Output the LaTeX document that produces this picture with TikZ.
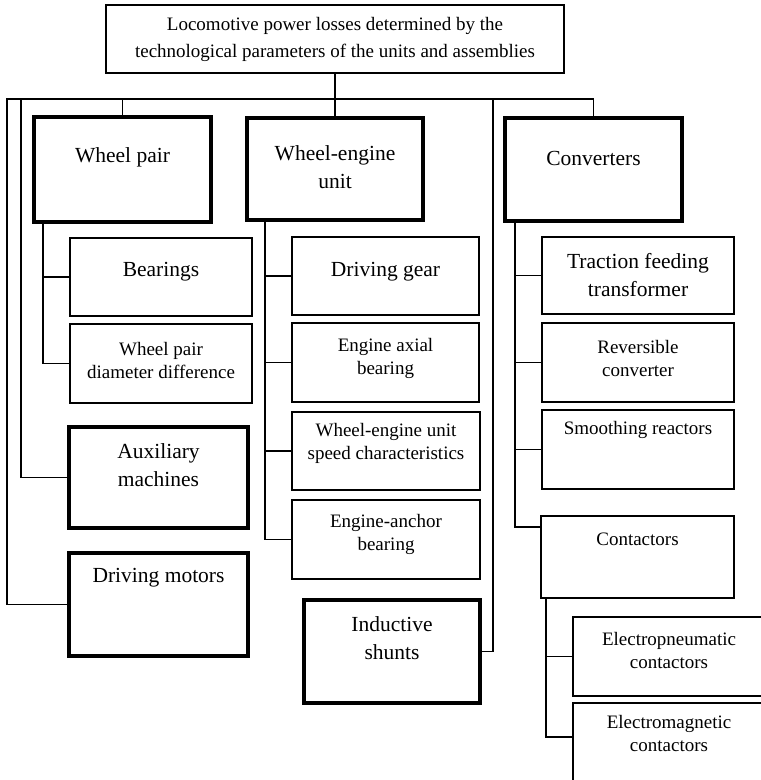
\documentclass[tikz,border=0pt]{standalone}
\usepackage{fontspec}
\setmainfont{Liberation Serif}
\usepackage{tikz}
\usetikzlibrary{positioning,calc}
\tikzset{
mainbox/.style={
draw,
line width=3.6bp,
anchor=north west,
inner sep=0pt,
outer sep=0pt
},
subbox/.style={
draw,
line width=1.8bp,
anchor=north west,
inner sep=0pt,
outer sep=0pt
},
boxsize/.style 2 args={
minimum width=#1bp,
minimum height=#2bp
},
bigtext/.style={
font=\fontsize{21.5bp}{28bp}\selectfont,
align=center
},
smalltext/.style={
font=\fontsize{19bp}{23bp}\selectfont,
align=center
},
link/.style={
line width=1.8bp
}
}

\begin{document}
\begin{tikzpicture}[x=1bp,y=-1bp]
\useasboundingbox (0,0) rectangle (761,780);
\fill[white] (0,0) rectangle (761,780);
\clip (0,0) rectangle (761,780);

% root
\node[subbox,boxsize={458}{68},label={[smalltext,font=\fontsize{19bp}{27bp}\selectfont]center:{Locomotive power losses determined by the\\technological parameters of the units and assemblies}}](top) at (106,5){};

% main groups
\node[mainbox,boxsize={177}{105},label={[bigtext,yshift=12.5bp]center:Wheel pair}](wp) at (34,117){};
\node[mainbox,boxsize={176}{102},label={[bigtext,yshift=2bp]center:{Wheel-engine\\unit}}](weu) at (247,118){};
\node[mainbox,boxsize={177}{103},label={[bigtext,yshift=11.5bp]center:Converters}](conv) at (505,118){};
\node[mainbox,boxsize={179}{101},label={[bigtext,yshift=12.5bp]center:{Auxiliary\\machines}}](aux) at (69,427){};
\node[mainbox,boxsize={179}{103},label={[bigtext,yshift=26.5bp]center:Driving motors}](dm) at (69,553){};
\node[mainbox,boxsize={176}{103},label={[bigtext,yshift=13.5bp]center:{Inductive\\shunts}}](ish) at (304,600){};

% wheel pair items
\node[subbox,boxsize={182}{78},label={[bigtext,yshift=5bp]center:Bearings}](bear) at (70,238){};
\node[subbox,boxsize={182}{79},label={[smalltext,yshift=3.5bp]center:{Wheel pair\\diameter difference}}](wpdd) at (70,324){};

% wheel-engine unit items
\node[subbox,boxsize={187}{78},label={[bigtext,yshift=4bp]center:Driving gear}](dg) at (292,237){};
\node[subbox,boxsize={187}{79},label={[smalltext,yshift=4bp]center:{Engine axial\\bearing}}](eab) at (292,323){};
\node[subbox,boxsize={188}{78},label={[smalltext,yshift=8bp]center:{Wheel-engine unit\\speed characteristics}}](weus) at (292,412){};
\node[subbox,boxsize={188}{79},label={[smalltext,yshift=5.5bp]center:{Engine-anchor\\bearing}}](eanb) at (292,500){};

% converter items
\node[subbox,boxsize={192}{77},label={[bigtext]center:{Traction feeding\\transformer}}](tft) at (542,237){};
\node[subbox,boxsize={192}{79},label={[smalltext,yshift=4bp]center:{Reversible\\converter}}](rc) at (542,323){};
\node[subbox,boxsize={192}{79},label={[smalltext,yshift=19.5bp]center:Smoothing reactors}](sr) at (542,410){};
\node[subbox,boxsize={193}{82},label={[smalltext,yshift=18bp]center:Contactors}](cont) at (541,516){};
\node[subbox,boxsize={192}{79},label={[smalltext,yshift=6.5bp]center:{Electropneumatic\\contactors}}](epc) at (573,617){};
\node[subbox,boxsize={192}{87},label={[smalltext,yshift=13.5bp]center:{Electromagnetic\\contactors}}](emc) at (573,703){};

% bus and rails
\coordinate (bus) at (335,99);
\coordinate (railA) at (21,99);
\coordinate (railB) at (7,99);
\coordinate (railC) at (493,99);

\draw[link](top.south)--(bus);
\draw[link](bus)-|(wp.north);
\draw[link](bus)--(weu.north);
\draw[link](bus)-|(conv.north);
\draw[link](bus)--(railB)|-(dm.west);
\draw[link](railA)|-(aux.west);
\draw[link](railC)|-(ish.east);

\draw[link]([xshift=9bp]wp.south west)|-(bear.west);
\draw[link]([xshift=9bp]wp.south west)|-(wpdd.west);

\draw[link]([xshift=18bp]weu.south west)|-(dg.west);
\draw[link]([xshift=18bp]weu.south west)|-(eab.west);
\draw[link]([xshift=18bp]weu.south west)|-(weus.west);
\draw[link]([xshift=18bp]weu.south west)|-(eanb.west);

\draw[link]([xshift=10bp]conv.south west)|-(tft.west);
\draw[link]([xshift=10bp]conv.south west)|-(rc.west);
\draw[link]([xshift=10bp]conv.south west)|-(sr.west);
\draw[link]([xshift=10bp]conv.south west)|-([yshift=-11bp]cont.north west);

\draw[link]([xshift=5bp]cont.south west)|-(epc.west);
\draw[link]([xshift=5bp]cont.south west)|-([yshift=-34bp]emc.north west);
\end{tikzpicture}
\end{document}
